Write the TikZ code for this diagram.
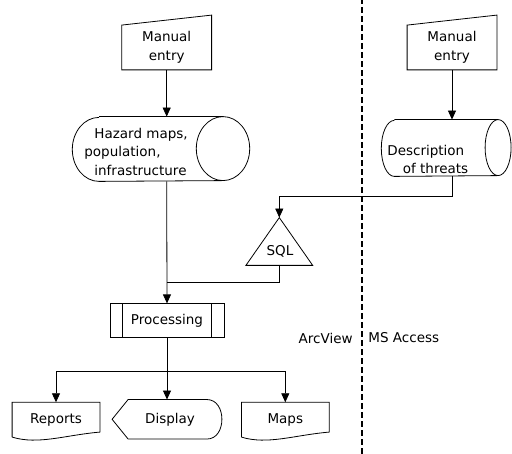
\documentclass[tikz,border=0pt]{standalone}
\usepackage{fontspec}
\setmainfont{DejaVu Sans}
\usetikzlibrary{arrows.meta}

\begin{document}
\begin{tikzpicture}[x=1pt, y=1pt, line width=0.8pt,
    >={Triangle[width=8pt,length=9pt]},
    lbl/.style={font=\fontsize{13.5}{18.5}\selectfont, inner sep=0pt, align=center},
    manin/.style={lbl, minimum width=89pt, minimum height=44pt},
    store/.style={inner sep=0pt},
    docu/.style={lbl, minimum width=87pt, minimum height=34pt}]

    % --- frame ---
    \useasboundingbox (0,0) rectangle (512,454);

    % --- input ---
    \node[manin] (inA) at (166.7,406.5) {Manual\\entry};
    \node[manin] (inB) at (452,406.5) {Manual\\entry};
    \foreach \n in {inA,inB}
        \draw (\n.south west) -- (\n.north west) -- ([yshift=10pt]\n.north east)
            -- (\n.south east) -- cycle;

    % --- stores (cylinder outline drawn round each box) ---
    \node[store, minimum width=176.6pt, minimum height=64pt] (haz) at (161,305) {};
    \node[store, minimum width=129pt, minimum height=56pt] (desc) at (446.2,306) {};
    \foreach \n/\rx/\ry in {haz/26.7/32, desc/13/28} {
        \draw ([xshift=\rx pt]\n.north west) -- ([xshift=-\rx pt]\n.north east)
            arc[start angle=90, end angle=-90, x radius=\rx, y radius=\ry]
            -- ([xshift=\rx pt]\n.south west)
            arc[start angle=270, end angle=90, x radius=\rx, y radius=\ry];
        \draw ([xshift=-\rx pt]\n.north east)
            arc[start angle=90, end angle=270, x radius=\rx, y radius=\ry];
    }
    \node[lbl, align=left, anchor=west] (hazT) at (84,302.5)
        {\hspace*{10pt}Hazard maps,\\population,\\\hspace*{10pt}infrastructure};
    \node[lbl, align=left, anchor=west] (descT) at (387,294.5)
        {Description\\\hspace*{15.5pt}of threats};

    % --- query and processing ---
    \node[store, minimum width=66pt, minimum height=47pt] (sql) at (279.3,212.5) {};
    \draw (sql.north) -- (sql.south east) -- (sql.south west) -- cycle;
    \node[lbl] (sqlT) at (280,202.5) {SQL};
    \node[lbl, draw, minimum width=114pt, minimum height=34pt] (proc) at (167,133.2) {Processing};
    \draw ([xshift=13pt]proc.north west) -- ([xshift=13pt]proc.south west);
    \draw ([xshift=-13pt]proc.north east) -- ([xshift=-13pt]proc.south east);

    % --- outputs ---
    \node[docu] (rep) at (56,34.3) {Reports};
    \node[docu] (maps) at (285.3,34.3) {Maps};
    \foreach \n in {rep,maps}
        \draw (\n.south west) -- (\n.north west) -- (\n.north east) -- ([yshift=5pt]\n.south east)
            .. controls ([xshift=-35pt,yshift=2pt]\n.south east) and ([xshift=26pt,yshift=-8pt]\n.south west)
            .. (\n.south west);
    \node[lbl, minimum width=109pt, minimum height=38.7pt] (disp) at (167,34.7) {\hspace*{6pt}Display};
    \draw (disp.west) -- ([xshift=16pt]disp.north west) -- ([xshift=-15pt]disp.north east)
        .. controls ([xshift=-5pt]disp.north east) and ([yshift=10pt]disp.east) .. (disp.east)
        .. controls ([yshift=-10pt]disp.east) and ([xshift=-5pt]disp.south east) .. ([xshift=-15pt]disp.south east)
        -- ([xshift=16pt]disp.south west) -- cycle;

    % --- flow ---
    \draw[->] (inA.south) -- (inA.south |- haz.north);
    \draw[->] (inB.south) -- (inB.south |- desc.north);
    \draw[->] (inB.south |- desc.south) -- ++(0,-20) -| (sql.north);
    \draw[->] (inA.south |- haz.south) -- (proc.north);
    \draw (sql.south) |- ([yshift=21pt]proc.north);
    \coordinate (fork) at ([yshift=-33pt]proc.south);
    \draw (proc.south) -- (fork);
    \draw[->] (fork) -| (rep.north);
    \draw[->] (fork) -| (maps.north);
    \draw[->] (fork) -- (disp.north);

    % --- divider ---
    \draw[dash pattern=on 6pt off 3pt, line width=1.6pt] (361.7,0) -- (361.7,454);
    \node[lbl, anchor=east] (arc) at (353,116) {ArcView};
    \node[lbl, anchor=west] (msa) at (368,116) {MS Access};
\end{tikzpicture}
\end{document}
